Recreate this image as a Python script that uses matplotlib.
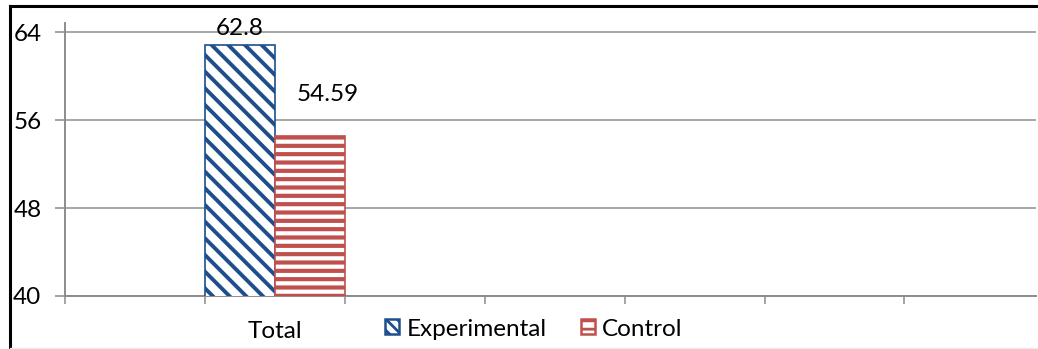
import numpy as np
import matplotlib
matplotlib.use("Agg")
import matplotlib.pyplot as plt
from matplotlib.patches import Patch
from matplotlib.lines import Line2D

plt.rcParams['font.family'] = ['Lato', 'DejaVu Sans']

# Chart values
categories = ["Total"]
experimental = [62.8]
control = [54.59]
series_names = ["Experimental", "Control"]
y_ticks = [40, 48, 56, 64]

navy = "#1F4E8C"
red = "#C0504D"
grid_gray = "#A6A6A6"
fs = 17.5

fig = plt.figure(figsize=(10.38, 3.49), dpi=100)
ax = fig.add_axes([65 / 1038, 53 / 349, 971 / 1038, 273 / 349])

# "Total" sits in the second slot of the category axis
slots = np.arange(len(categories)) + 1
width = 0.5

plt.rcParams['hatch.linewidth'] = 2.8
ax.bar(slots, experimental, width=width, align='edge',
       facecolor='white', edgecolor=navy, hatch='\\\\', linewidth=1.2, zorder=3)
plt.rcParams['hatch.linewidth'] = 3.0
ax.bar(slots + width, control, width=width, align='edge',
       facecolor='white', edgecolor=red, hatch='--', linewidth=1.2, zorder=3)

# value labels
for x, v in zip(slots, experimental):
    ax.annotate(f"{v:g}", (x + width / 2, v), xytext=(0, 7), textcoords='offset points',
                ha='center', va='baseline', fontsize=fs, color='black')
for x, v in zip(slots, control):
    ax.annotate(f"{v:g}", (x + width * 1.5, v), xytext=(13, 25), textcoords='offset points',
                ha='center', va='baseline', fontsize=fs, color='black')

ax.set_ylim(40, 64.82)
ax.set_xlim(0, 6.94)
ax.set_yticks(y_ticks)
ax.set_yticklabels([str(t) for t in y_ticks], fontsize=fs)
ax.set_xticks(slots + width)
ax.set_xticklabels(categories, fontsize=fs)
ax.set_xticks(np.arange(0, 7), minor=True)

ax.tick_params(axis='y', length=7, width=1.1, color='#8C8C8C', pad=10)
ax.tick_params(axis='x', which='major', length=0, pad=18)
ax.tick_params(axis='x', which='minor', length=6, width=1.1, color='#8C8C8C')

ax.yaxis.grid(True, color=grid_gray, linewidth=1.4, zorder=0)
ax.set_axisbelow(True)
for side in ['top', 'right']:
    ax.spines[side].set_visible(False)
for side in ['left', 'bottom']:
    ax.spines[side].set_color('#8C8C8C')
    ax.spines[side].set_linewidth(1.4)

plt.rcParams['hatch.linewidth'] = 2.0
handles = [Patch(facecolor='white', edgecolor=navy, hatch='\\\\\\', linewidth=1.8),
           Patch(facecolor='white', edgecolor=red, hatch='--', linewidth=1.8)]
fig.legend(handles, series_names, loc='center left', bbox_to_anchor=(385 / 1038, 1 - 329 / 349),
           ncol=2, frameon=False, fontsize=fs, handlelength=0.58, handleheight=0.58,
           handletextpad=0.3, columnspacing=1.4, borderpad=0, borderaxespad=0)

# outer chart frame (left and top edges)
fig.add_artist(Line2D([9.5 / 1038, 9.5 / 1038], [0, 1 - 5.5 / 349], color='black', linewidth=2.2,
                      transform=fig.transFigure))
fig.add_artist(Line2D([9.5 / 1038, 1], [1 - 5.5 / 349, 1 - 5.5 / 349], color='black', linewidth=2.2,
                      transform=fig.transFigure))
fig.add_artist(Line2D([9.5 / 1038, 1], [1.5 / 349, 1.5 / 349], color='#EDEDED', linewidth=1,
                      transform=fig.transFigure))

fig.savefig("out.png", dpi=100)
